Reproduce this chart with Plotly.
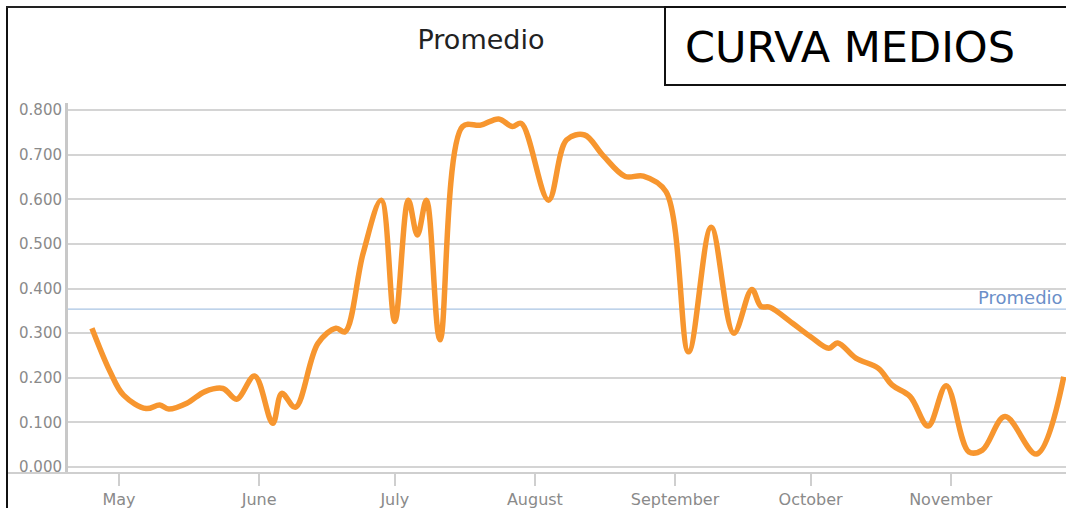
import plotly.graph_objects as go

# ---- data ----
dates = ["2019-04-25", "2019-04-29", "2019-05-02", "2019-05-07", "2019-05-10", "2019-05-12",
         "2019-05-16", "2019-05-20", "2019-05-24", "2019-05-27", "2019-05-31", "2019-06-04",
         "2019-06-06", "2019-06-09", "2019-06-14", "2019-06-18", "2019-06-20", "2019-06-24",
         "2019-06-28", "2019-07-01", "2019-07-04", "2019-07-06", "2019-07-08", "2019-07-11",
         "2019-07-16", "2019-07-20", "2019-07-24", "2019-07-27", "2019-07-29", "2019-08-04",
         "2019-08-08", "2019-08-12", "2019-08-16", "2019-08-21", "2019-08-25", "2019-08-30",
         "2019-09-04", "2019-09-09", "2019-09-14", "2019-09-18", "2019-09-20", "2019-09-22",
         "2019-09-27", "2019-10-01", "2019-10-05", "2019-10-07", "2019-10-11", "2019-10-16",
         "2019-10-19", "2019-10-23", "2019-10-27", "2019-10-31", "2019-11-05", "2019-11-08",
         "2019-11-13", "2019-11-20", "2019-11-26"]
values = [0.311, 0.214, 0.161, 0.131, 0.139, 0.130,
          0.143, 0.169, 0.176, 0.152, 0.204, 0.098,
          0.165, 0.134, 0.277, 0.311, 0.303, 0.479,
          0.598, 0.326, 0.598, 0.520, 0.598, 0.285,
          0.763, 0.766, 0.780, 0.763, 0.770, 0.598,
          0.733, 0.744, 0.699, 0.651, 0.652, 0.617,
          0.258, 0.537, 0.300, 0.398, 0.360, 0.358,
          0.322, 0.292, 0.266, 0.278, 0.244, 0.221,
          0.184, 0.158, 0.092, 0.182, 0.034, 0.038,
          0.113, 0.029, 0.202]
average_value = 0.354
month_ticks = ["2019-05-01", "2019-06-01", "2019-07-01", "2019-08-01",
               "2019-09-01", "2019-10-01", "2019-11-01"]
month_labels = ["May", "June", "July", "August", "September", "October", "November"]
title_text = "Promedio"
avg_label = "Promedio"
box_text = "CURVA MEDIOS"

# ---- layout helpers (pixel -> paper) ----
W, H = 1066, 508
L, R, T, B = 68, 1066, 103, 473


def px(x):
    return (x - L) / (R - L)


def py(y):
    return (B - y) / (B - T)


FONT = "DejaVu Sans"

fig = go.Figure()
fig.add_trace(go.Scatter(
    x=dates, y=values, mode="lines",
    line=dict(color="#F7962F", width=5.5, shape="spline", smoothing=1.0),
    hoverinfo="skip", showlegend=False,
))

shapes = [
    # average line
    dict(type="line", xref="paper", yref="y", x0=0, x1=1, y0=average_value, y1=average_value,
         line=dict(color="#a9c4e3", width=1.2), layer="below"),
    # bottom axis line extending to frame
    dict(type="line", xref="paper", yref="paper", x0=px(6), x1=px(1066), y0=py(473), y1=py(473),
         line=dict(color="#cfcfcf", width=2)),
    # outer frame: left and top
    dict(type="line", xref="paper", yref="paper", x0=px(7), x1=px(7), y0=py(6), y1=py(510),
         line=dict(color="#111111", width=2)),
    dict(type="line", xref="paper", yref="paper", x0=px(6), x1=px(1068), y0=py(7), y1=py(7),
         line=dict(color="#222222", width=2)),
    # title box
    dict(type="rect", xref="paper", yref="paper", x0=px(665), x1=px(1070), y0=py(7), y1=py(85),
         line=dict(color="#111111", width=2), fillcolor="white"),
]

annotations = [
    dict(text=avg_label, xref="paper", yref="y", x=px(1065), y=average_value,
         xanchor="right", yanchor="bottom", showarrow=False, yshift=-1,
         font=dict(family=FONT, size=18, color="#6b8fc9")),
    dict(text=box_text, xref="paper", yref="paper", x=px(683), y=py(47),
         xanchor="left", yanchor="middle", showarrow=False,
         font=dict(family=FONT, size=43, color="#000000")),
]

y_per_px = 0.8 / (467 - 110)
fig.update_layout(
    width=W, height=H,
    margin=dict(l=L, r=W - R, t=T, b=H - B),
    paper_bgcolor="white", plot_bgcolor="white",
    title=dict(text=title_text, x=481 / W, xanchor="center", y=1 - 40 / H, yanchor="middle",
               xref="container", yref="container",
               font=dict(family=FONT, size=27, color="#222222")),
    xaxis=dict(type="date",
               range=["2019-04-19 17:00", "2019-11-26 12:00"],
               tickvals=month_ticks, ticktext=month_labels,
               ticks="outside", ticklen=12, tickwidth=2, tickcolor="#cfcfcf",
               showgrid=False, showline=False, zeroline=False,
               tickfont=dict(family=FONT, size=16, color="#8a8a8a")),
    yaxis=dict(range=[-(473 - 467) * y_per_px, 0.8 + (110 - 103) * y_per_px],
               tickvals=[0, 0.1, 0.2, 0.3, 0.4, 0.5, 0.6, 0.7, 0.8],
               tickformat=".3f",
               showgrid=True, gridcolor="#d4d4d4", gridwidth=2,
               showline=True, linecolor="#c8c8c8", linewidth=3,
               zeroline=False, ticks="",
               tickfont=dict(family=FONT, size=15, color="#8a8a8a")),
    shapes=shapes, annotations=annotations,
)

fig.write_html(
    "out.html",
    config={"displayModeBar": False, "staticPlot": True},
    post_script="document.body.style.margin='0';document.body.style.overflow='hidden';",
)
